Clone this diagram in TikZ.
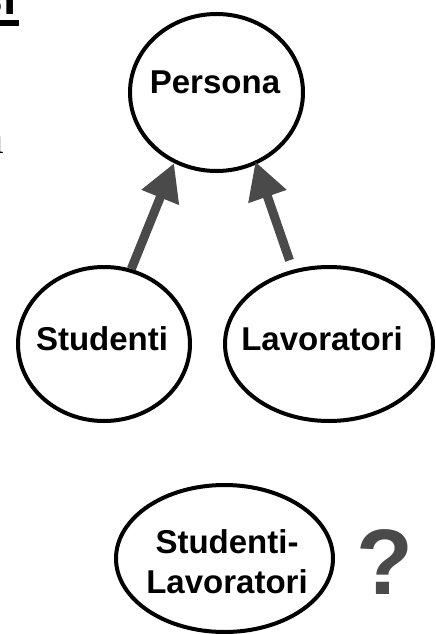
\documentclass[tikz,border=0pt]{standalone}
\usepackage{fontspec}
\setmainfont{Liberation Sans}
\newfontfamily\seriffont{Liberation Serif}
\usetikzlibrary{arrows.meta,shapes.geometric}
\definecolor{arrowgray}{HTML}{4A4A4A}
\tikzset{
  cls/.style={ellipse,draw,line width=4pt,inner sep=0pt},
  lbl/.style={anchor=base,inner sep=0pt,font=\fontsize{33}{40}\selectfont\bfseries},
  isa/.style={draw=arrowgray,line width=9pt,-{Triangle[length=37pt,width=38pt]}}
}

\begin{document}
\begin{tikzpicture}[x=1pt,y=-1pt]
\useasboundingbox (0,0) rectangle (436,634);

% pieces of the slide text, cut by the left edge
\node[anchor=base east,inner sep=0pt,font=\fontsize{48}{58}\selectfont\bfseries] (title) at (17,15) {si};
\draw[line width=6pt] ([yshift=-8pt]title.base west) -- ([shift={(2pt,-8pt)}]title.base east);
\node[anchor=base east,inner sep=0pt,font=\fontsize{46}{55}\selectfont\seriffont] (body) at (4,153) {a};

\node[cls,minimum width=173pt,minimum height=157pt] (pers) at (216.5,92.5) {};
\node[cls,minimum width=172pt,minimum height=154pt] (stud) at (104,344) {};
\node[cls,minimum width=208pt,minimum height=154pt] (lav) at (329,344) {};
\node[cls,minimum width=217pt,minimum height=147pt] (studlav) at (224.5,558.5) {};

\node[lbl] (persT) at (215,93) {Persona};
\node[lbl] (studT) at (102,350) {Studenti};
\node[lbl] (lavT) at (322,350) {Lavoratori};
\node[lbl] (studlavT1) at (227,553) {Studenti-};
\node[lbl] (studlavT2) at (227,593) {Lavoratori};

\draw[isa] (stud.70) -- (pers.239);
\draw[isa,shorten <=10pt,shorten >=-3pt] (lav.116) -- (pers.299);

\node[anchor=base,inner sep=0pt,text=arrowgray,font=\fontsize{93}{100}\selectfont\bfseries] (quest) at (385,594) {?};
\end{tikzpicture}
\end{document}
